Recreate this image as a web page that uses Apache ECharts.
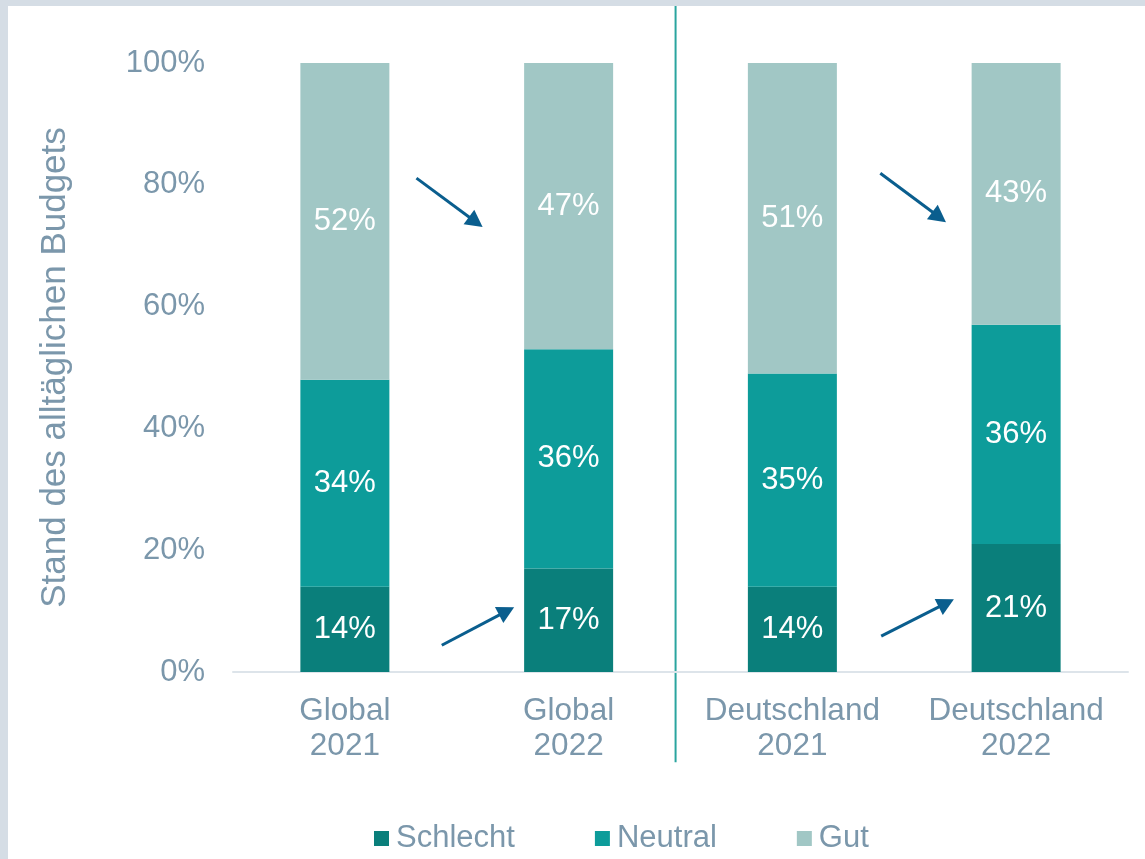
<!DOCTYPE html>
<html>
<head>
<meta charset="utf-8">
<script src="https://cdn.jsdelivr.net/npm/echarts@6/dist/echarts.min.js"></script>
<style>
  html, body { margin: 0; padding: 0; background: #d5dde5; }
  #chart { position: absolute; left: 8px; top: 6px; width: 1137px; height: 853px; background: #fff; }
</style>
</head>
<body>
<div id="chart"></div>
<script>
// values in percent
const categories = ['Global\n2021', 'Global\n2022', 'Deutschland\n2021', 'Deutschland\n2022']
const schlecht = [14, 17, 14, 21]
const neutral = [34, 36, 35, 36]
const gut = [52, 47, 51, 43]
const yTicks = [0, 20, 40, 60, 80, 100]

// arrows: [fromX, fromY, toX, toY] with x as category position, y in percent
const arrows = [
  [0.32, 81.1, 0.585, 73.9],
  [0.433, 4.4, 0.723, 10.0],
  [2.393, 81.9, 2.656, 74.7],
  [2.397, 5.9, 2.688, 11.3]
]
// separator between Global and Deutschland, y range in percent (runs past the grid)
const separatorX = 1.478
const separatorY = [109.4, -14.8]

const textColor = '#7b97ab'
const font = 'Liberation Sans, Arial, sans-serif'

const chart = echarts.init(document.getElementById('chart'))

function barSeries(name, data, color) {
  return {
    name: name,
    type: 'bar',
    stack: 'total',
    barWidth: 89,
    data: data,
    itemStyle: { color: color },
    label: {
      show: true,
      position: 'inside',
      color: '#fff',
      fontSize: 31,
      fontFamily: font,
      formatter: p => p.value + '%'
    }
  }
}

const arrowLines = arrows.map(a => [
  { coord: [a[0], a[1]] },
  { coord: [a[2], a[3]] }
])

const option = {
  animation: false,
  textStyle: { fontFamily: font },
  grid: { left: 225, right: 17, top: 57, bottom: 187 },
  legend: {
    data: ['Schlecht', 'Neutral', 'Gut'],
    top: 812,
    left: 361,
    itemWidth: 15,
    itemHeight: 15,
    itemGap: 80,
    icon: 'rect',
    textStyle: { color: textColor, fontSize: 31, fontFamily: font, padding: [0, 0, 0, 2] }
  },
  xAxis: [
    {
      type: 'category',
      data: categories,
      axisTick: { show: false },
      axisLine: { lineStyle: { color: '#dde4ea', width: 2 } },
      axisLabel: { interval: 0, color: textColor, fontSize: 31.5, fontFamily: font, lineHeight: 35, margin: 22 }
    },
    {
      type: 'value',
      min: -0.5,
      max: 3.5,
      show: false
    }
  ],
  yAxis: {
    type: 'value',
    min: 0,
    max: 100,
    interval: 20,
    name: 'Stand des alltäglichen Budgets',
    nameLocation: 'middle',
    nameGap: 160,
    nameTextStyle: { color: textColor, fontSize: 35, fontFamily: font },
    splitLine: { show: false },
    axisLine: { show: false },
    axisTick: { show: false },
    axisLabel: {
      color: textColor,
      fontSize: 31,
      fontFamily: font,
      margin: 28,
      formatter: v => yTicks.includes(v) ? v + '%' : ''
    }
  },
  series: [
    barSeries('Schlecht', schlecht, '#0a7f7b'),
    barSeries('Neutral', neutral, '#0d9c9a'),
    barSeries('Gut', gut, '#a1c7c5'),
    {
      type: 'line',
      xAxisIndex: 1,
      data: [],
      clip: false,
      markLine: {
        silent: true,
        symbol: ['none', 'triangle'],
        symbolSize: [18, 17],
        label: { show: false },
        lineStyle: { color: '#0a5e8e', width: 3, type: 'solid' },
        data: arrowLines
      }
    }
  ]
}

chart.setOption(option)

// separator line reaches beyond the grid, so place it through the axes
const sepStart = chart.convertToPixel({ xAxisIndex: 1, yAxisIndex: 0 }, [separatorX, separatorY[0]])
const sepEnd = chart.convertToPixel({ xAxisIndex: 1, yAxisIndex: 0 }, [separatorX, separatorY[1]])
chart.setOption({
  graphic: [{
    type: 'line',
    silent: true,
    shape: { x1: sepStart[0], y1: sepStart[1], x2: sepEnd[0], y2: sepEnd[1] },
    style: { stroke: '#2aa59f', lineWidth: 2 }
  }]
})
</script>
</body>
</html>
